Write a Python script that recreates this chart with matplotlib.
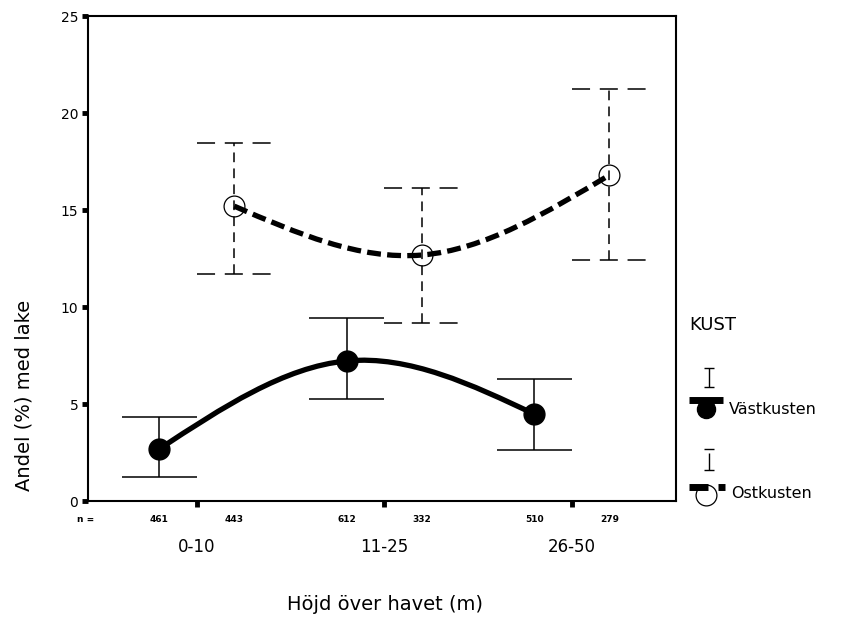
import numpy as np
import matplotlib.pyplot as plt
from matplotlib.path import Path
from matplotlib.patches import PathPatch
from matplotlib import transforms

plt.rcParams['font.family'] = ['DejaVu Sans']
plt.rcParams['lines.scale_dashes'] = False

# data
kategorier = ['0-10', '11-25', '26-50']
vast_andel = [2.68, 7.22, 4.48]
vast_ned = [1.24, 5.26, 2.63]
vast_upp = [4.33, 9.43, 6.29]
ost_andel = [15.2, 12.68, 16.8]
ost_ned = [11.7, 9.18, 12.42]
ost_upp = [18.45, 16.13, 21.24]
vast_n = [461, 612, 510]
ost_n = [443, 332, 279]

fig = plt.figure(figsize=(8.46, 6.17), dpi=100)
ax = fig.add_axes([0.104, 0.188, 0.695, 0.786])

x = np.arange(1, len(kategorier) + 1)
forskj = 0.2
xv = x - forskj
xo = x + forskj


def spline_path(xs, ys):
    # naturlig kubisk spline som Bezier-segment
    xs = np.asarray(xs, float)
    ys = np.asarray(ys, float)
    n = len(xs)
    h = np.diff(xs)
    A = np.zeros((n, n))
    b = np.zeros(n)
    A[0, 0] = 1
    A[-1, -1] = 1
    for i in range(1, n - 1):
        A[i, i - 1] = h[i - 1]
        A[i, i] = 2 * (h[i - 1] + h[i])
        A[i, i + 1] = h[i]
        b[i] = 6 * ((ys[i + 1] - ys[i]) / h[i] - (ys[i] - ys[i - 1]) / h[i - 1])
    M = np.linalg.solve(A, b)
    verts = [(xs[0], ys[0])]
    codes = [Path.MOVETO]
    for i in range(n - 1):
        s = (ys[i + 1] - ys[i]) / h[i]
        d0 = s - h[i] * (2 * M[i] + M[i + 1]) / 6
        d1 = s + h[i] * (M[i] + 2 * M[i + 1]) / 6
        verts += [(xs[i] + h[i] / 3, ys[i] + d0 * h[i] / 3),
                  (xs[i + 1] - h[i] / 3, ys[i + 1] - d1 * h[i] / 3),
                  (xs[i + 1], ys[i + 1])]
        codes += [Path.CURVE4] * 3
    return Path(verts, codes)


# felstaplar
ax.vlines(xv, vast_ned, vast_upp, color='black', lw=1.1)
ax.hlines(vast_ned, xv - forskj, xv + forskj, color='black', lw=1.1)
ax.hlines(vast_upp, xv - forskj, xv + forskj, color='black', lw=1.1)

ax.vlines(xo, ost_ned, ost_upp, color='black', lw=1.1, linestyles=[(0, (7, 4.5))])
ax.hlines(ost_ned, xo - forskj, xo + forskj, color='black', lw=1.1, linestyles=[(0, (13, 7))])
ax.hlines(ost_upp, xo - forskj, xo + forskj, color='black', lw=1.1, linestyles=[(0, (13, 7))])

# linjer
ax.add_patch(PathPatch(spline_path(xv, vast_andel), fill=False, lw=3.8,
                       edgecolor='black', zorder=3))
ax.add_patch(PathPatch(spline_path(xo, ost_andel), fill=False, lw=3.8,
                       edgecolor='black', linestyle=(0, (10, 4.5)), zorder=3))

ax.plot(xv, vast_andel, 'o', ms=15, color='black', zorder=4)
ax.plot(xo, ost_andel, 'o', ms=15, mfc='none', mec='black', mew=0.9, zorder=2)

ax.set_xlim(0.42, 3.555)
ax.set_ylim(0, 25)
ax.set_yticks(np.arange(0, 26, 5))
ax.set_xticks(x)
ax.set_xticklabels([])
ax.tick_params(direction='out', length=4, width=3.5, color='black', labelsize=10, pad=3)
for s in ax.spines.values():
    s.set_linewidth(1.5)

# n och kategorier under axeln
tr = transforms.blended_transform_factory(ax.transData, fig.transFigure)
for xi, nv in zip(xv, vast_n):
    ax.text(xi, 1 - 519 / 617, str(nv), transform=tr, ha='center', va='center',
            fontsize=6.5, fontweight='bold')
for xi, nv in zip(xo, ost_n):
    ax.text(xi, 1 - 519 / 617, str(nv), transform=tr, ha='center', va='center',
            fontsize=6.5, fontweight='bold')
for xi, k in zip(x, kategorier):
    ax.text(xi, 1 - 547 / 617, k, transform=tr, ha='center', va='center', fontsize=12)
fig.text(86 / 846, 1 - 519 / 617, 'n =', ha='center', va='center', fontsize=6.5,
         fontweight='bold')

fig.text(385 / 846, 1 - 605 / 617, 'Höjd över havet (m)', ha='center', va='center',
         fontsize=14)
fig.text(24 / 846, 1 - 395 / 617, 'Andel (%) med lake', ha='center', va='center',
         rotation=90, fontsize=14)

# förklaring
lg = fig.add_axes([0, 0, 1, 1])
lg.set_xlim(0, 846)
lg.set_ylim(617, 0)
lg.axis('off')
lg.patch.set_alpha(0)

lg.text(689, 325, 'KUST', ha='left', va='center', fontsize=13)

lg.vlines(709, 368, 387, color='black', lw=1)
lg.hlines([368, 387], 704, 714, color='black', lw=1)
lg.hlines(400, 689, 723, color='black', lw=5)
lg.plot([706], [409], 'o', ms=13, color='black')
lg.text(729, 410, 'Västkusten', ha='left', va='center', fontsize=11.5)

lg.vlines(709, 453, 470, color='black', lw=1)
lg.hlines([449, 470], 704, 714, color='black', lw=1)
lg.hlines(487, 689, 708, color='black', lw=5)
lg.hlines(487, 718, 725, color='black', lw=5)
lg.plot([706], [495], 'o', ms=15, mfc='none', mec='black', mew=0.9)
lg.text(731, 493, 'Ostkusten', ha='left', va='center', fontsize=11.5)

fig.savefig('out.png', dpi=100, facecolor='white')
